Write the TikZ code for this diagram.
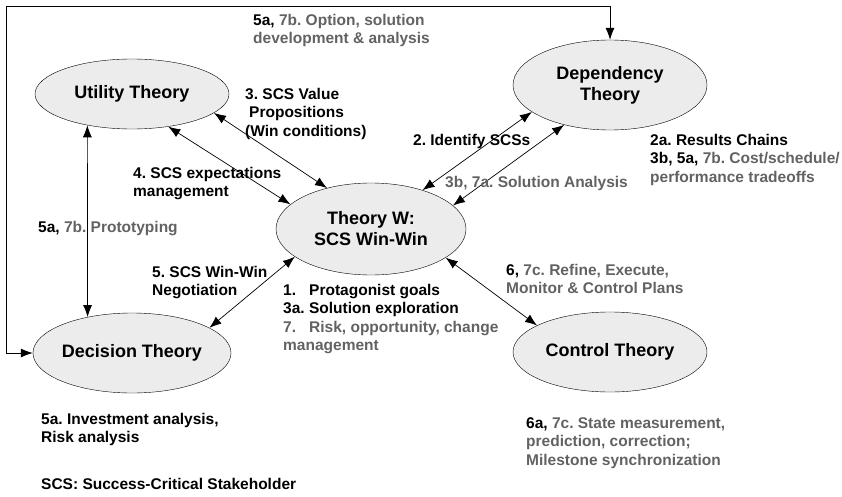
\documentclass[tikz,border=0pt]{standalone}
\usepackage{fontspec}
\setmainfont{Liberation Sans}
\usepackage{tikz}
\usetikzlibrary{
  shapes.geometric,%
  arrows.meta,
  positioning
}
\frenchspacing
\definecolor{labelgray}{RGB}{98,98,98}
\definecolor{theoryfill}{RGB}{236,236,236}
\newcommand{\grtxt}[1]{\textcolor{labelgray}{#1}}
\tikzset{>={Latex[length=12pt,width=9pt]}}
\tikzset{theory/.style={ellipse, draw=black, fill=theoryfill, thin,
    inner sep=0pt, font=\fontsize{18}{21}\selectfont\bfseries, align=center}}
\tikzset{note/.style={anchor=north west, inner sep=0pt, align=left,
    font=\fontsize{15.5}{18.5}\selectfont\bfseries}}
\tikzset{link/.style={<->, line width=0.7pt}}

\begin{document}
\begin{tikzpicture}[x=1pt, y=-1pt]
  \useasboundingbox (0,0) rectangle (842,497);
  % the five theories
  \node[theory, minimum width=194pt, minimum height=70pt] (util) at (132,94) {Utility Theory};
  \node[theory, minimum width=194pt, minimum height=90pt] (dep) at (610,85) {Dependency\\Theory};
  \node[theory, minimum width=190pt, minimum height=92pt] (thw) at (371,229) {Theory W:\\SCS Win-Win};
  \node[theory, minimum width=194pt, minimum height=80pt] (dec) at (132,353) {Decision Theory};
  \node[theory, minimum width=194pt, minimum height=80pt] (ctrl) at (610,352) {Control Theory};
  % corners of the outer loop
  \coordinate (tl) at (6,6);
  % connectors
  \draw[link] (util.-13) -- (thw.137);
  \draw[link] (util.-42) -- (thw.163);
  \draw[link] (dep.-161) -- (thw.37);
  \draw[link] (dep.-139) -- (thw.16);
  \draw[link] (thw.-160) -- (dec.18);
  \draw[link] (thw.-21) -- (ctrl.160);
  \draw[link] (util.-145.4) -- (dec.141);
  \draw[link] (dec.west) -| (tl) -| (dep.north);
  % labels
  \node[note] (opt) at (253,14) {5a, \grtxt{7b. Option, solution}\\\grtxt{development \& analysis}};
  \node[note] (val) at (245,88) {3. SCS Value\\\hspace{4pt}Propositions\\(Win conditions)};
  \node[note] (expct) at (133,167) {4. SCS expectations\\management};
  \node[note] (proto) at (38,221) {5a, \grtxt{7b. Prototyping}};
  \node[note] (ident) at (413,134) {2. Identify SCSs};
  \node[note] (solan) at (445,176) {\grtxt{3b, 7a. Solution Analysis}};
  \node[note] (res) at (650,134) {2a. Results Chains\\3b, 5a, \grtxt{7b. Cost/schedule/}\\\grtxt{performance tradeoffs}};
  \node[note] (nego) at (152,266) {5. SCS Win-Win\\Negotiation};
  \node[note] (goals) at (283,284) {\hbox to 26pt{1.\hfil}Protagonist goals\\3a. Solution exploration\\\grtxt{\hbox to 26pt{7.\hfil}Risk, opportunity, change}\\\grtxt{management}};
  \node[note] (refine) at (506,264) {6, \grtxt{7c. Refine, Execute,}\\\grtxt{Monitor \& Control Plans}};
  \node[note] (state) at (526,417) {6a, \grtxt{7c. State measurement,}\\\grtxt{prediction, correction;}\\\grtxt{Milestone synchronization}};
  \node[note] (invest) at (41,413) {5a. Investment analysis,\\Risk analysis};
  \node[note] (scs) at (41,478) {SCS: Success-Critical Stakeholder};
\end{tikzpicture}
\end{document}
